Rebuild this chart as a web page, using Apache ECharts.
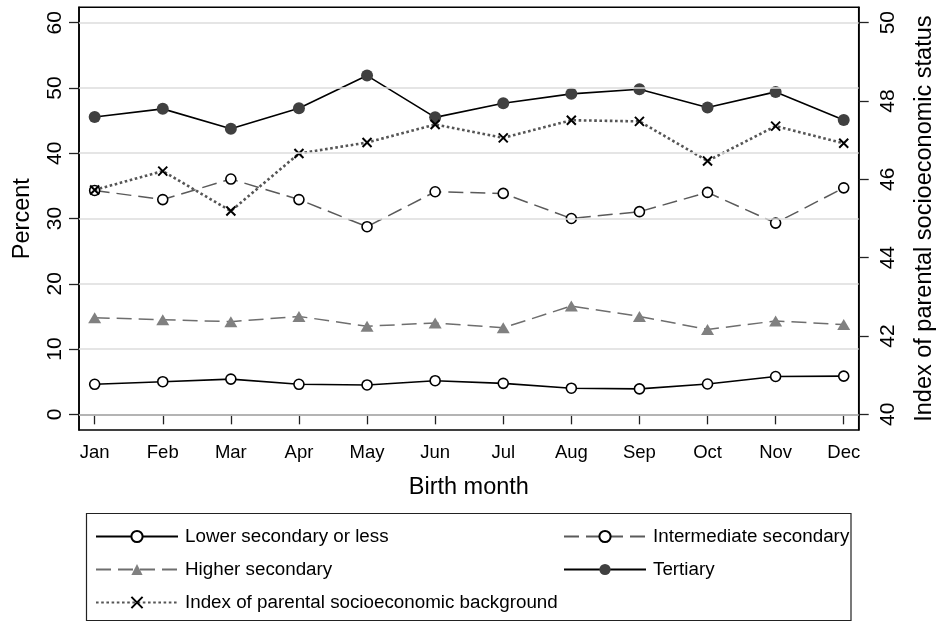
<!DOCTYPE html>
<html>
<head>
<meta charset="utf-8">
<script src="https://cdn.jsdelivr.net/npm/echarts@6/dist/echarts.min.js"></script>
<style>
  html, body { margin: 0; padding: 0; background: #fff; }
  #chart { width: 936px; height: 622px; }
</style>
</head>
<body>
<div id="chart"></div>
<script>
// Birth month categories
const months = ['Jan', 'Feb', 'Mar', 'Apr', 'May', 'Jun', 'Jul', 'Aug', 'Sep', 'Oct', 'Nov', 'Dec'];

// Share (%) by educational attainment, per birth month
const lowerSecondary = [4.6, 5.0, 5.4, 4.6, 4.5, 5.15, 4.75, 4.0, 3.9, 4.65, 5.8, 5.85];
const intermediateSecondary = [34.3, 32.9, 36.05, 32.9, 28.75, 34.1, 33.85, 30.0, 31.05, 34.0, 29.3, 34.7];
const higherSecondary = [14.8, 14.5, 14.2, 15.0, 13.5, 14.0, 13.25, 16.6, 15.0, 13.0, 14.3, 13.75];
const tertiary = [45.55, 46.8, 43.75, 46.9, 51.9, 45.5, 47.65, 49.1, 49.8, 47.0, 49.4, 45.1];

// Index of parental socioeconomic status (right axis)
const parentalIndex = [45.73, 46.21, 45.19, 46.66, 46.94, 47.40, 47.06, 47.51, 47.48, 46.47, 47.36, 46.92];

// Tick labels
const percentTicks = [0, 10, 20, 30, 40, 50, 60];
const indexTicks = [40, 42, 44, 46, 48, 50];
const monthTicks = months.map((m, i) => i + 1);

const FONT = '"Liberation Sans", Arial, Helvetica, sans-serif';
const pairs = arr => arr.map((v, i) => [i + 1, v]);

const chart = echarts.init(document.getElementById('chart'), null, { renderer: 'canvas' });

const legendBase = {
  orient: 'horizontal',
  padding: 0,
  itemWidth: 82,
  itemHeight: 14,
  itemGap: 0,
  selectedMode: false,
  textStyle: { fontFamily: FONT, fontSize: 18.8, color: '#000', padding: [0, 0, 0, 2] }
};

const option = {
  animation: false,
  backgroundColor: '#fff',
  textStyle: { fontFamily: FONT },
  grid: {
    left: 79, right: 77.3, top: 7.3, bottom: 192,
    outerBoundsMode: 'none',
    containLabel: false,
    show: true, borderColor: '#000', borderWidth: 1.5, backgroundColor: '#fff'
  },
  xAxis: {
    type: 'value',
    min: 0.77, max: 12.22,
    name: 'Birth month',
    nameLocation: 'middle',
    nameGap: 46,
    nameTextStyle: { fontFamily: FONT, fontSize: 23.5, color: '#000' },
    axisLine: { lineStyle: { color: '#000', width: 1.5 } },
    axisTick: { length: 10, customValues: monthTicks, lineStyle: { color: '#222', width: 1.3 } },
    axisLabel: {
      customValues: monthTicks,
      margin: 13,
      fontFamily: FONT, fontSize: 18.5, color: '#000',
      formatter: v => months[Math.round(v) - 1]
    },
    splitLine: { show: false }
  },
  yAxis: [
    {
      type: 'value',
      min: -2.4, max: 62.36,
      name: 'Percent',
      nameLocation: 'middle',
      nameGap: 44,
      nameTextStyle: { fontFamily: FONT, fontSize: 23.5, color: '#000' },
      axisLine: { show: true, lineStyle: { color: '#000', width: 1.5 } },
      axisTick: { show: true, length: 10, customValues: percentTicks, lineStyle: { color: '#222', width: 1.3 } },
      axisLabel: {
        customValues: percentTicks,
        rotate: 90, margin: 13,
        fontFamily: FONT, fontSize: 21, color: '#000'
      },
      splitLine: { show: false }
    },
    {
      type: 'value',
      position: 'right',
      min: 39.6, max: 50.393,
      name: 'Index of parental socioeconomic status',
      nameLocation: 'middle',
      nameGap: 54,
      nameTextStyle: { fontFamily: FONT, fontSize: 23.5, color: '#000' },
      axisLine: { show: true, lineStyle: { color: '#000', width: 1.5 } },
      axisTick: { show: true, length: 10, customValues: indexTicks, lineStyle: { color: '#222', width: 1.3 } },
      axisLabel: {
        customValues: indexTicks,
        rotate: 90, margin: 19,
        fontFamily: FONT, fontSize: 21, color: '#000'
      },
      splitLine: { show: false }
    }
  ],
  legend: [
    Object.assign({}, legendBase, { data: ['Lower secondary or less'], left: 95, top: 527 }),
    Object.assign({}, legendBase, { data: ['Intermediate secondary'], left: 563, top: 527 }),
    Object.assign({}, legendBase, { data: ['Higher secondary'], left: 95, top: 560 }),
    Object.assign({}, legendBase, { data: ['Tertiary'], left: 563, top: 560 }),
    Object.assign({}, legendBase, { data: ['Index of parental socioeconomic background'], left: 95, top: 593 })
  ],
  graphic: [
    {
      type: 'rect',
      shape: { x: 86.5, y: 513.5, width: 764.5, height: 107 },
      style: { fill: 'none', stroke: '#222', lineWidth: 1.2 },
      silent: true
    }
  ],
  series: [
    {
      name: 'gridlines',
      type: 'line',
      data: [],
      z: 0,
      silent: true,
      markLine: {
        silent: true,
        symbol: 'none',
        label: { show: false },
        lineStyle: { color: '#dcdcdc', width: 1.6, type: 'solid' },
        animation: false,
        data: percentTicks.map(t => ({ yAxis: t }))
      }
    },
    {
      name: 'Lower secondary or less',
      type: 'line',
      yAxisIndex: 0,
      data: pairs(lowerSecondary),
      symbol: 'circle',
      symbolSize: 10,
      lineStyle: { color: '#000', width: 1.6, type: 'solid' },
      itemStyle: { color: '#fff', borderColor: '#000', borderWidth: 1.6 },
      z: 3
    },
    {
      name: 'Intermediate secondary',
      type: 'line',
      yAxisIndex: 0,
      data: pairs(intermediateSecondary),
      symbol: 'circle',
      symbolSize: 10,
      lineStyle: { color: '#5a5a5a', width: 1.5, type: [15, 7] },
      itemStyle: { color: '#fff', borderColor: '#000', borderWidth: 1.6 },
      z: 3
    },
    {
      name: 'Higher secondary',
      type: 'line',
      yAxisIndex: 0,
      data: pairs(higherSecondary),
      symbol: 'triangle',
      symbolSize: [13, 11],
      lineStyle: { color: '#6e6e6e', width: 1.5, type: [15, 7] },
      itemStyle: { color: '#808080' },
      z: 3
    },
    {
      name: 'Tertiary',
      type: 'line',
      yAxisIndex: 0,
      data: pairs(tertiary),
      symbol: 'circle',
      symbolSize: 12,
      lineStyle: { color: '#000', width: 1.6, type: 'solid' },
      itemStyle: { color: '#404040' },
      z: 3
    },
    {
      name: 'Index of parental socioeconomic background',
      type: 'line',
      yAxisIndex: 1,
      data: pairs(parentalIndex),
      symbol: 'path://M0,0L10,10M10,0L0,10',
      symbolSize: 9,
      lineStyle: { color: '#555', width: 2.6, type: [2.6, 2.6] },
      itemStyle: { color: 'rgba(0,0,0,0)', borderColor: '#000', borderWidth: 2 },
      z: 4
    }
  ]
};

chart.setOption(option);
</script>
</body>
</html>
